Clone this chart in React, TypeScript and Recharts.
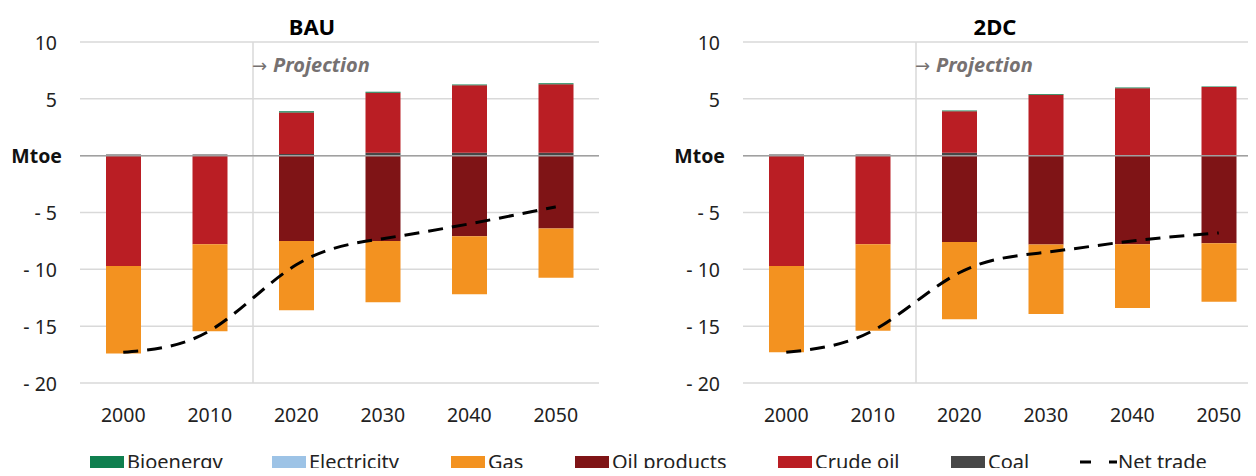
import React from "react";
import {
  ComposedChart,
  Bar,
  Line,
  XAxis,
  YAxis,
  CartesianGrid,
  ReferenceLine,
} from "recharts";

const years = ["2000", "2010", "2020", "2030", "2040", "2050"];
const yTicks = [-20, -15, -10, -5, 0, 5, 10];

// BAU scenario (Mtoe)
const bauBioenergy = [0, 0, 0.1, 0.1, 0.07, 0.08];
const bauElectricity = [0, 0, 0, 0, 0, 0];
const bauGas = [-7.7, -7.65, -6.1, -5.4, -5.1, -4.35];
const bauOilProducts = [0, 0, -7.5, -7.5, -7.1, -6.4];
const bauCrudeOil = [-9.7, -7.8, 3.65, 5.28, 5.95, 6.03];
const bauCoal = [0.1, 0.1, 0.15, 0.25, 0.25, 0.25];
const bauNetTrade = [-17.3, -15.4, -9.6, -7.3, -6.0, -4.5];

// 2DC scenario (Mtoe)
const dcBioenergy = [0, 0, 0.07, 0.07, 0.07, 0.05];
const dcElectricity = [0, 0, 0, 0, 0, 0];
const dcGas = [-7.6, -7.6, -6.8, -6.1, -5.6, -5.15];
const dcOilProducts = [0, 0, -7.59, -7.82, -7.8, -7.7];
const dcCrudeOil = [-9.7, -7.8, 3.65, 5.3, 5.93, 6.04];
const dcCoal = [0.1, 0.1, 0.25, 0.05, 0, 0];
const dcNetTrade = [-17.3, -15.4, -10.3, -8.5, -7.5, -6.8];

const COLORS = {
  bioenergy: "#0F7F4F",
  electricity: "#9DC3E6",
  gas: "#F39220",
  oilProducts: "#7F1416",
  crudeOil: "#BA1E24",
  coal: "#474747",
};

const FONT = '"Noto Sans", sans-serif';
const TEXT = "#222222";

function build(
  bio: number[],
  elec: number[],
  gas: number[],
  oilp: number[],
  crude: number[],
  coal: number[],
  net: number[]
) {
  return years.map((year, i) => ({
    year,
    coal: coal[i],
    crudeOil: crude[i],
    oilProducts: oilp[i],
    gas: gas[i],
    electricity: elec[i],
    bioenergy: bio[i],
    netTrade: net[i],
  }));
}

const bauData = build(bauBioenergy, bauElectricity, bauGas, bauOilProducts, bauCrudeOil, bauCoal, bauNetTrade);
const dcData = build(dcBioenergy, dcElectricity, dcGas, dcOilProducts, dcCrudeOil, dcCoal, dcNetTrade);

function YTick(props: any) {
  const { x, y, payload } = props;
  const v = payload.value as number;
  if (v === 0) {
    return (
      <text x={x - 10} y={y} dy="0.36em" textAnchor="end" fontSize={19.5} fontWeight={700} fill="#111" fontFamily={FONT}>
        Mtoe
      </text>
    );
  }
  const label = v < 0 ? `- ${-v}` : `${v}`;
  return (
    <text x={x - 15} y={y} dy="0.4em" textAnchor="end" fontSize={19.5} fill={TEXT} fontFamily={FONT}>
      {label}
    </text>
  );
}

function Panel({ data, title, left, titleX }: { data: any[]; title: string; left: number; titleX: number }) {
  const W = 620;
  const H = 440;
  return (
    <div style={{ position: "absolute", left, top: 0, width: W, height: H }}>
      <ComposedChart
        width={W}
        height={H}
        data={data}
        stackOffset="sign"
        barSize={35}
        margin={{ top: 42, right: 21, left: 0, bottom: 0 }}
      >
        <CartesianGrid vertical={false} stroke="#D9D9D9" strokeWidth={1.5} />
        <XAxis
          dataKey="year"
          axisLine={false}
          tickLine={false}
          height={57}
          tickMargin={19}
          tick={{ fontSize: 19.5, fill: TEXT, fontFamily: FONT }}
        />
        <YAxis
          width={80}
          domain={[-20, 10]}
          ticks={yTicks}
          interval={0}
          axisLine={false}
          tickLine={false}
          tick={<YTick />}
        />
        <ReferenceLine x="2020" position="start" stroke="#D9D9D9" strokeWidth={1.5} />
        <Bar dataKey="coal" stackId="s" fill={COLORS.coal} isAnimationActive={false} />
        <Bar dataKey="crudeOil" stackId="s" fill={COLORS.crudeOil} isAnimationActive={false} />
        <Bar dataKey="oilProducts" stackId="s" fill={COLORS.oilProducts} isAnimationActive={false} />
        <Bar dataKey="gas" stackId="s" fill={COLORS.gas} isAnimationActive={false} />
        <Bar dataKey="electricity" stackId="s" fill={COLORS.electricity} isAnimationActive={false} />
        <Bar dataKey="bioenergy" stackId="s" fill={COLORS.bioenergy} isAnimationActive={false} />
        <ReferenceLine y={0} stroke="#A0A0A0" strokeWidth={1.5} />
        <Line
          dataKey="netTrade"
          type="natural"
          stroke="#000"
          strokeWidth={3}
          strokeDasharray="15 9"
          dot={false}
          isAnimationActive={false}
        />
      </ComposedChart>
      <div
        style={{
          position: "absolute",
          left: titleX - 200,
          width: 400,
          top: 11,
          textAlign: "center",
          fontSize: 22,
          fontWeight: 700,
          color: "#000",
          fontFamily: FONT,
        }}
      >
        {title}
      </div>
      <div
        style={{
          position: "absolute",
          left: 252,
          top: 51,
          fontSize: 20,
          color: "#767171",
          fontFamily: FONT,
          whiteSpace: "nowrap",
        }}
      >
        <span style={{ fontFamily: '"DejaVu Sans", sans-serif', fontSize: 18 }}>→</span>
        <span style={{ fontWeight: 700, fontStyle: "italic", marginLeft: 6 }}>Projection</span>
      </div>
    </div>
  );
}

const legendItems = [
  { label: "Bioenergy", color: COLORS.bioenergy, x: 90 },
  { label: "Electricity", color: COLORS.electricity, x: 272 },
  { label: "Gas", color: COLORS.gas, x: 451 },
  { label: "Oil products", color: COLORS.oilProducts, x: 575 },
  { label: "Crude oil", color: COLORS.crudeOil, x: 778 },
  { label: "Coal", color: COLORS.coal, x: 951 },
];

export default function App() {
  return (
    <div
      style={{
        position: "relative",
        width: 1256,
        height: 476,
        margin: -8,
        overflow: "hidden",
        background: "#fff",
        fontFamily: FONT,
      }}
    >
      <Panel data={bauData} title="BAU" left={0} titleX={312} />
      <Panel data={dcData} title="2DC" left={663} titleX={332} />
      {legendItems.map((it) => (
        <div
          key={it.label}
          style={{ position: "absolute", left: it.x, top: 448, display: "flex", alignItems: "center", whiteSpace: "nowrap" }}
        >
          <span style={{ display: "inline-block", width: 34, height: 12, background: it.color, marginRight: 3 }} />
          <span style={{ fontSize: 20, color: TEXT }}>{it.label}</span>
        </div>
      ))}
      <div style={{ position: "absolute", left: 1080, top: 448, display: "flex", alignItems: "center", whiteSpace: "nowrap" }}>
        <svg width={38} height={12}>
          <line x1={0} y1={6} x2={37} y2={6} stroke="#000" strokeWidth={3} strokeDasharray="11 18 8 0" />
        </svg>
        <span style={{ fontSize: 20, color: TEXT }}>Net trade</span>
      </div>
    </div>
  );
}
